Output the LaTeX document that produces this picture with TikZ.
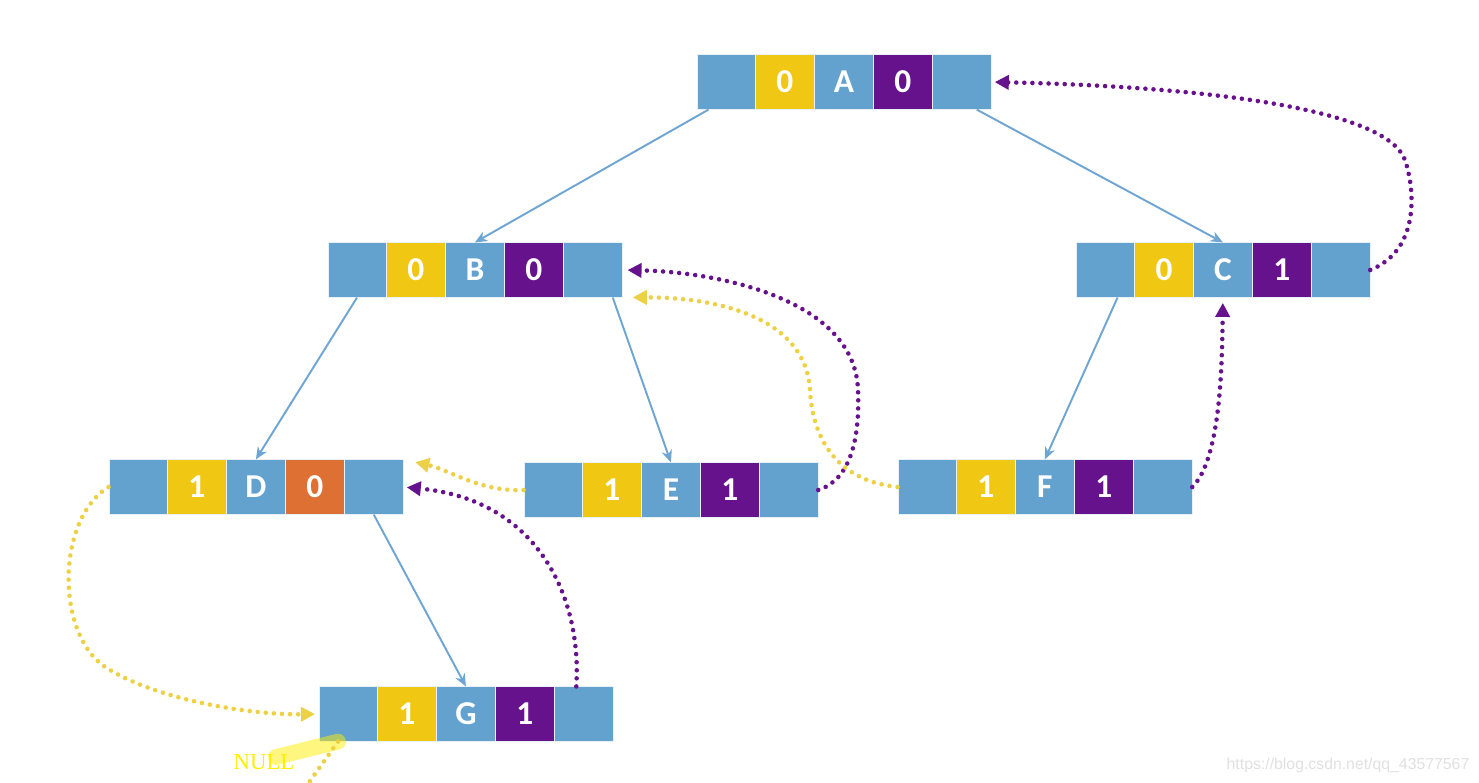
\documentclass[tikz,border=0pt]{standalone}
\usepackage{fontspec}
\setmainfont{Carlito}
\newfontfamily\nullserif{Liberation Serif}
\newfontfamily\marksans{Liberation Sans}
\usetikzlibrary{arrows.meta,positioning}

\definecolor{cellblue}{RGB}{99,161,206}
\definecolor{tagyellow}{RGB}{240,200,20}
\definecolor{tagpurple}{RGB}{102,18,140}
\definecolor{tagorange}{RGB}{222,112,52}
\definecolor{linkblue}{RGB}{110,165,210}
\definecolor{dotyellow}{RGB}{236,208,70}
\definecolor{nullyellow}{RGB}{255,238,0}

% one threaded node: left child, ltag, data, rtag, right child
\newcommand{\threadrec}[6]{
  \node[cell] (#1l) at (#2) {};
  \node[cell, fill=tagyellow, right=0pt of #1l] (#1lt) {#3};
  \node[cell, right=0pt of #1lt] (#1) {#4};
  \node[cell, fill=#6, right=0pt of #1] (#1rt) {#5};
  \node[cell, right=0pt of #1rt] (#1r) {};
}

\begin{document}
\begin{tikzpicture}[x=0.02cm,y=-0.02cm,
                    link/.style={-{Stealth[length=7pt,width=6pt]}, draw=linkblue, line width=1.1pt},
                    thread/.style={-{Triangle[length=8pt,width=8pt]}, line width=2.6pt,
                                   line cap=round, dash pattern=on 0pt off 4.6pt}]
  \tikzstyle{cell}=[fill=cellblue, draw=white!85!cellblue, line width=0.4pt,
                    minimum width=1.165cm, minimum height=1.09cm, inner sep=0pt,
                    text=white, font=\fontsize{19}{20}\selectfont\bfseries]

  \useasboundingbox (0,0) rectangle (1479,782);

  \threadrec{A}{726,82}{0}{A}{0}{tagpurple}
  \threadrec{B}{357,270}{0}{B}{0}{tagpurple}
  \threadrec{C}{1105,270}{0}{C}{1}{tagpurple}
  \threadrec{D}{138,487}{1}{D}{0}{tagorange}
  \threadrec{E}{553,490}{1}{E}{1}{tagpurple}
  \threadrec{F}{927,487}{1}{F}{1}{tagpurple}
  \threadrec{G}{348,714}{1}{G}{1}{tagpurple}

  % child links
  \draw[link] ([xshift=-0.35cm]Al.south) -- (B.north);
  \draw[link] ([xshift=0.3cm]Ar.south) -- (C.north);
  \draw[link] (Bl.south) -- (D.north);
  \draw[link] ([xshift=0.4cm]Br.south) -- (E.north);
  \draw[link] ([xshift=0.25cm]Cl.south) -- (F.north);
  \draw[link] (Dr.south) -- (G.north);

  % successor threads
  \draw[thread, tagpurple, shorten >=2pt] (Cr.east) .. controls (1420,250) and (1415,190) .. (1405,160)
        .. controls (1385,105) and (1180,86) .. (Ar.east);
  \draw[thread, tagpurple, shorten >=3pt] (Er.east) .. controls (850,480) and (860,440) .. (858,390)
        .. controls (855,300) and (720,272) .. (Br.east);
  \draw[thread, tagpurple, shorten >=3pt] (Fr.east) .. controls (1220,460) and (1222,370) .. (C.south);
  \draw[thread, tagpurple, shorten >=2pt] ([xshift=-0.15cm]Gr.north) .. controls (582,600) and (540,500) .. (Dr.east);

  % predecessor threads
  \draw[thread, dotyellow, shorten >=6pt] (Fl.west) .. controls (830,480) and (812,430) .. (810,390)
        .. controls (805,310) and (700,297) .. (Br.south east);
  \draw[thread, dotyellow, shorten >=7pt] (El.west) .. controls (480,492) and (450,470) .. (Dr.north east);
  \draw[thread, dotyellow, shorten >=2pt] (Dl.west) .. controls (55,520) and (55,640) .. (110,670)
        .. controls (160,700) and (250,715) .. (Gl.west);

  % NULL
  \coordinate (nullend) at (300,795);
  \draw[nullyellow, opacity=0.5, line width=9pt, line cap=round] (276,757) -- ([xshift=-0.2cm]Gl.south);
  \draw[dotyellow, line width=2.6pt, line cap=round, dash pattern=on 0pt off 4.6pt]
        ([xshift=-0.2cm]Gl.south) -- (nullend);
  \node[text=nullyellow, font=\nullserif\fontsize{13}{13}\selectfont] (null) at (264,762) {NULL};

  \node[text=black!12, font=\marksans\fontsize{9}{9}\selectfont] (mark) at (1348,765) {https://blog.csdn.net/qq\_43577567};
\end{tikzpicture}
\end{document}
